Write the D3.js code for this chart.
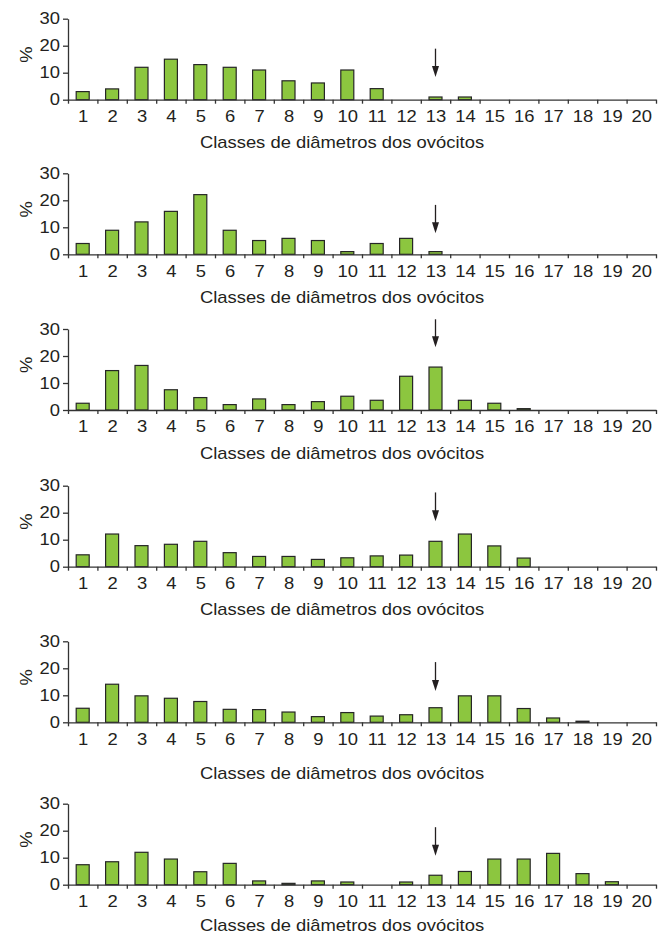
<!DOCTYPE html>
<html>
<head>
<meta charset="utf-8">
<script src="https://cdn.jsdelivr.net/npm/d3@7"></script>
<style>
  body { margin: 0; background: #fff; }
  svg { display: block; }
  text { font-family: "Liberation Sans", Arial, sans-serif; fill: #231f20; }
</style>
</head>
<body>
<svg id="chart"></svg>
<script>
// classes 1..20 on the x axis
const classes = d3.range(1, 21);
const yTicks = [0, 10, 20, 30];
const xTitle = "Classes de diâmetros dos ovócitos";
const yTitle = "%";

// percent of oocytes per diameter class, one array per panel (top to bottom)
const panel1 = [3, 4, 12, 15, 13, 12, 11, 7, 6.2, 11, 4.1, 0, 1, 1, 0, 0, 0, 0, 0, 0];
const panel2 = [4, 8.9, 12, 15.9, 22.1, 8.9, 5.1, 5.9, 5.1, 1, 4, 5.9, 1, 0, 0, 0, 0, 0, 0, 0];
const panel3 = [2.5, 14.6, 16.5, 7.5, 4.6, 2, 4.1, 2, 3.1, 5.1, 3.6, 12.5, 15.9, 3.6, 2.5, 0.5, 0, 0, 0, 0];
const panel4 = [4.4, 12.1, 7.8, 8.3, 9.4, 5.2, 3.8, 3.8, 2.7, 3.3, 4, 4.3, 9.4, 12.1, 7.7, 3.2, 0, 0, 0, 0];
const panel5 = [5.2, 14.1, 9.8, 8.9, 7.7, 4.8, 4.7, 3.8, 2.1, 3.6, 2.3, 2.8, 5.4, 9.8, 9.8, 5.1, 1.6, 0.4, 0, 0];
const panel6 = [7.4, 8.5, 12, 9.5, 4.8, 7.9, 1.4, 0.5, 1.4, 1, 0, 1, 3.5, 4.9, 9.5, 9.5, 11.6, 4.1, 1.1, 0];

// arrow marking class 13: tail and tip, in % units
const arrowClass = 13;
const arrowTop = [18.9, 18.3, 33.6, 27.5, 22.3, 21.3];
const arrowTip = [8.4, 7.8, 23.2, 16.8, 11.6, 10.7];

const panels = [panel1, panel2, panel3, panel4, panel5, panel6];

// layout
const W = 668, H = 934;
const zeroY = [99.7, 254.3, 410, 566.7, 722.3, 884.7];   // baseline of each panel
const titleDy = [48, 49, 49, 48, 57, 46];
const plotH = 81;
const left = 68, right = 656;
const sx = 1.15;   // the source type is a bit wider than Arial

const svg = d3.select("#chart").attr("width", W).attr("height", H);

const x = d3.scaleLinear().domain([0, 20]).range([left, right]);
const y = d3.scaleLinear().domain([0, 30]).range([plotH, 0]);
const bw = 13;

panels.forEach((vals, p) => {
  const g = svg.append("g")
      .attr("transform", `translate(0,${zeroY[p] - plotH})`);

  // y axis
  const yAxisG = g.append("g")
      .attr("transform", `translate(${left},0)`)
      .call(d3.axisLeft(y).tickValues(yTicks).tickSize(5).tickSizeOuter(0).tickPadding(2));
  yAxisG.selectAll("text")
      .attr("transform", `scale(${sx},1)`)
      .style("font-size", "16px");

  // bars
  g.selectAll(".bar")
    .data(classes.filter((c, i) => vals[i] > 0))
    .join("rect")
      .attr("class", "bar")
      .attr("x", c => x(c - 0.5) - bw / 2)
      .attr("y", c => y(vals[c - 1]))
      .attr("width", bw)
      .attr("height", c => y(0) - y(vals[c - 1]))
      .attr("fill", "#8cc63f")
      .attr("stroke", "#262626")
      .attr("stroke-width", 1.2);

  // x axis: boundary ticks
  g.append("g")
      .attr("transform", `translate(0,${plotH})`)
      .call(d3.axisBottom(x).tickValues(d3.range(0, 21)).tickSize(4).tickSizeOuter(0).tickFormat(""));

  // x axis: class labels at centers
  const xl = g.append("g")
      .attr("transform", `translate(0,${plotH})`)
      .call(d3.axisBottom(x).tickValues(classes.map(c => c - 0.5)).tickSize(0).tickPadding(11)
        .tickFormat(d => d + 0.5));
  xl.select(".domain").remove();
  xl.selectAll("text")
      .attr("transform", `scale(${sx},1)`)
      .style("font-size", "16px");

  svg.selectAll(".domain, .tick line").attr("stroke", "#333").attr("stroke-width", 1.3);

  // arrow at class 13
  const ax = x(arrowClass - 0.5);
  const yTop = y(arrowTop[p]), yTip = y(arrowTip[p]);
  g.append("line")
      .attr("x1", ax).attr("x2", ax)
      .attr("y1", yTop).attr("y2", yTip - 8)
      .attr("stroke", "#231f20").attr("stroke-width", 1.3);
  g.append("path")
      .attr("d", `M${ax - 3.5},${yTip - 11}L${ax + 3.5},${yTip - 11}L${ax},${yTip}Z`)
      .attr("fill", "#231f20");

  // axis titles
  g.append("text")
      .attr("transform", `translate(31.5,${y(16.7)}) rotate(-90) scale(${sx},1)`)
      .attr("text-anchor", "middle")
      .style("font-size", "16px")
      .text(yTitle);

  g.append("text")
      .attr("transform", `translate(342,${plotH + titleDy[p]}) scale(${sx},1)`)
      .attr("text-anchor", "middle")
      .style("font-size", "16px")
      .text(xTitle);
});
</script>
</body>
</html>
